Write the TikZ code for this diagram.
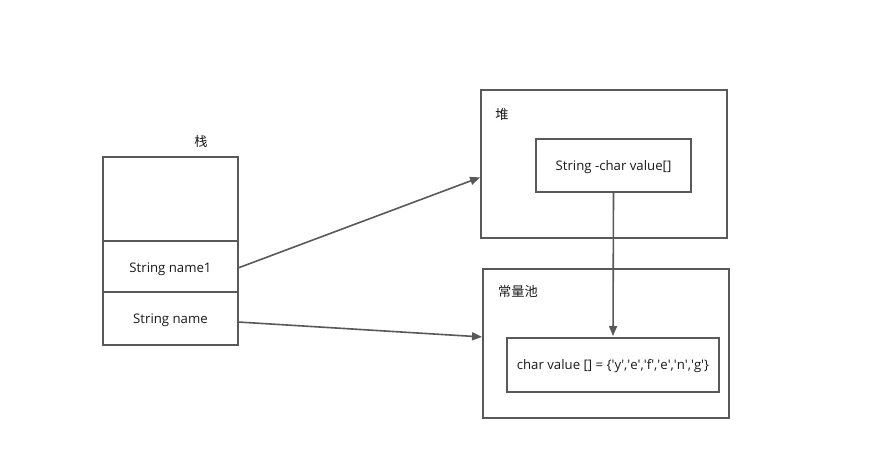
\documentclass[tikz,border=0pt]{standalone}
\usepackage{fontspec}
\setmainfont{Open Sans}
\newfontfamily\cjk{Noto Sans CJK SC}
\usetikzlibrary{arrows.meta}
\definecolor{ln}{HTML}{595959}
\definecolor{tx}{HTML}{1A1A1A}
\newcommand{\q}{\textquotesingle}
\tikzset{
  box/.style={draw=ln, line width=2pt, fill=white},
  lbl/.style={text=tx, font=\fontsize{13.2pt}{15pt}\selectfont, inner sep=0pt},
  conn/.style={draw=ln, line width=1.6pt, -{Triangle[length=10pt,width=8pt]}, shorten >=1pt}
}
\begin{document}
\begin{tikzpicture}[x=1pt,y=-1pt]
\useasboundingbox[fill=white] (0,0) rectangle (872,459);
% stack
\draw[box] (103,157) rectangle (238,345);
\draw[ln, line width=2pt] (103,241) -- (238,241);
\draw[ln, line width=2pt] (103,292) -- (238,292);
\node[lbl] (stk) at (201,141) {\cjk 栈};
\node[lbl] (n1) at (170.5,269) {String name1};
\node[lbl] (n0) at (170.5,320) {String name};
\coordinate (s1) at (238,268);
\coordinate (s0) at (238,322);
% heap
\draw[box] (481,90) rectangle (727,238);
\node[lbl] (heap) at (502,115) {\cjk 堆};
\node[box, minimum width=155pt, minimum height=53pt, inner sep=0pt] (str) at (613.5,165.5) {};
\node[lbl, yshift=-1.5pt] at (str) {String -char value[]};
\coordinate (h) at (481,177);
% constant pool
\draw[box] (483,269) rectangle (729,418);
\node[lbl] (pool) at (518,291) {\cjk 常量池};
\node[box, minimum width=212pt, minimum height=54pt, inner sep=0pt] (arr) at (613,365) {};
\node[lbl, yshift=-1.5pt] at (arr) {char value [] = \{\q y\q,\q e\q,\q f\q,\q e\q,\q n\q,\q g\q\}};
\coordinate (p) at (483,337);
% connectors
\draw[conn] (s1) -- (h);
\draw[conn] (s0) -- (p);
\draw[conn] (str.south) -- (arr.north);
\end{tikzpicture}
\end{document}
